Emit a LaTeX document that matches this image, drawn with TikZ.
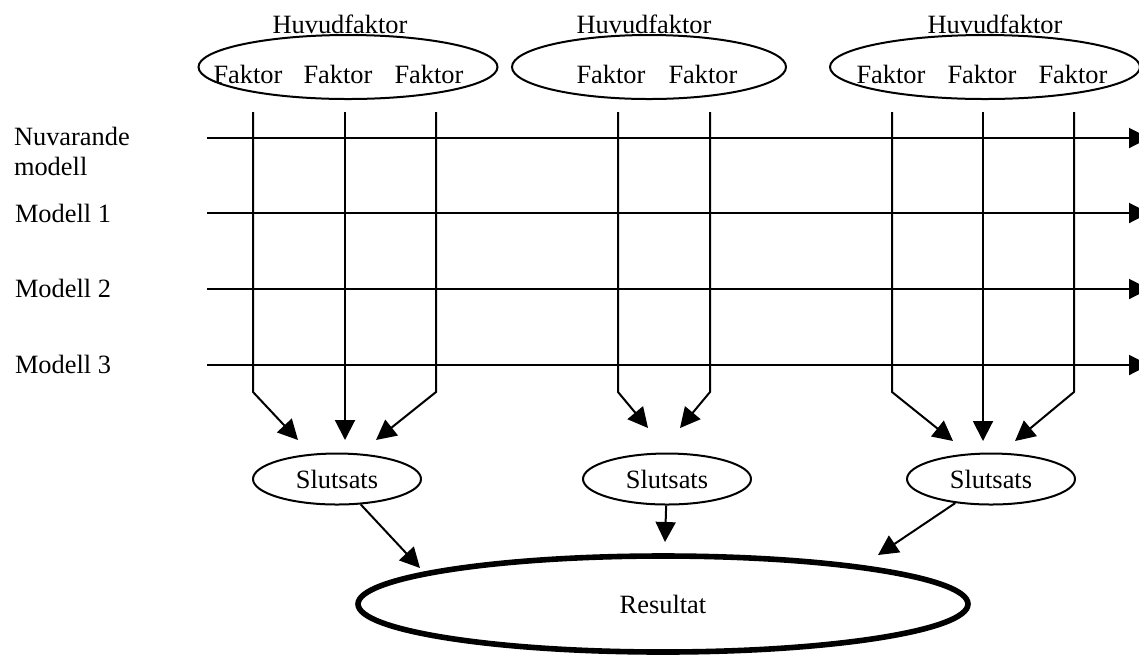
\documentclass[tikz,border=0pt]{standalone}
\usepackage{fontspec}
\setmainfont{Liberation Serif}
\usetikzlibrary{arrows.meta, shapes.geometric}

\begin{document}
\begin{tikzpicture}[
  x=0.5pt, y=-0.5pt,
  every node/.style={font={\fontsize{13.2}{15}\selectfont}, inner sep=0pt},
  hf/.style={draw, ellipse, line width=1pt, minimum height=32pt},
  fak/.style={anchor=base},
  slut/.style={draw, ellipse, line width=1pt, minimum width=84pt, minimum height=25.5pt},
  res/.style={draw, ellipse, line width=2.8pt, minimum width=305pt, minimum height=48pt},
  lbl/.style={anchor=base west, align=left},
  >={Triangle[length=10pt, width=10pt]}, line width=1pt
]
\useasboundingbox (0,0) rectangle (1139,655);

% huvudfaktorer
\node[hf, minimum width=149.5pt] (hf1) at (348,67) {};
\node[hf, minimum width=137pt]   (hf2) at (649,67) {};
\node[hf, minimum width=155pt]   (hf3) at (985,67) {};
\node[fak] (h1) at (340,33) {Huvudfaktor};
\node[fak] (h2) at (644,33) {Huvudfaktor};
\node[fak] (h3) at (995,33) {Huvudfaktor};

\node[fak] (f11) at (248,83)  {Faktor};
\node[fak] (f12) at (338,83)  {Faktor};
\node[fak] (f13) at (429,83)  {Faktor};
\node[fak] (f21) at (611,83)  {Faktor};
\node[fak] (f22) at (703,83)  {Faktor};
\node[fak] (f31) at (891,83)  {Faktor};
\node[fak] (f32) at (982,83)  {Faktor};
\node[fak] (f33) at (1073,83) {Faktor};

% modeller
\node[anchor=west, align=left] (m0) at (13,151) {Nuvarande\\modell};
\node[lbl] (m1) at (14,222) {Modell 1};
\node[lbl] (m2) at (14,297) {Modell 2};
\node[lbl] (m3) at (14,373) {Modell 3};

\foreach \y/\n in {138/0, 213/1, 289/2, 365/3} {
  \coordinate (ha\n) at (207,\y);
  \coordinate (hb\n) at (1149,\y);
  \draw[->] (ha\n) -- (hb\n);
}

% faktorer ner mot slutsatser
\foreach \x/\tx/\ty/\n in {253/298/440/11, 345/345/440/12, 436/376/440/13,
                           618/648/428/21, 710/680/428/22,
                           892/953/441/31, 983/983/441/32, 1074/1015/441/33} {
  \coordinate (v\n) at (\x,112);
  \coordinate (b\n) at (\x,392);
  \coordinate (t\n) at (\tx,\ty);
  \draw[->] (v\n) -- (b\n) -- (t\n);
}

% slutsatser och resultat
\node[slut] (s1) at (337,479) {Slutsats};
\node[slut] (s2) at (667,479) {Slutsats};
\node[slut] (s3) at (991,479) {Slutsats};
\node[res]  (r)  at (663,604) {Resultat};

\coordinate (rs1) at (420,568);
\coordinate (rs2) at (665,542);
\coordinate (rs3) at (878,555);
\draw[->] (s1) -- (rs1);
\draw[->] (s2) -- (rs2);
\draw[->] (s3) -- (rs3);
\end{tikzpicture}
\end{document}
